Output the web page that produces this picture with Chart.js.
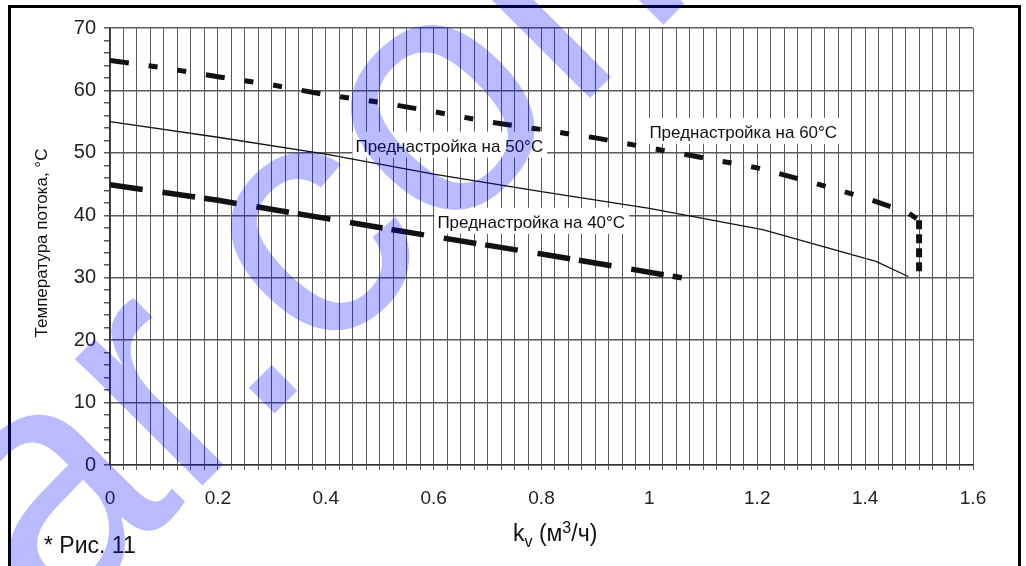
<!DOCTYPE html>
<html>
<head>
<meta charset="utf-8">
<script src="https://cdn.jsdelivr.net/npm/chart.js@4"></script>
<style>
  html, body { margin: 0; padding: 0; background: #fff; }
</style>
</head>
<body>
<canvas id="my-chart" width="1026" height="566"></canvas>
<script>
'use strict';

// ************* Data **************
let kv60 = [0, 0.1, 0.2, 0.3, 0.4, 0.5, 0.6, 0.7, 0.8, 0.9, 1.0, 1.1, 1.2, 1.3, 1.4, 1.48, 1.5, 1.5];
let t60 = [64.8, 63.6, 62.2, 60.9, 59.3, 58.1, 56.6, 55.0, 53.7, 52.4, 50.8, 49.2, 47.6, 45.3, 42.8, 40.4, 39.2, 30.3];

let kv50 = [0, 0.2, 0.4, 0.6, 0.8, 1.0, 1.21, 1.42, 1.48];
let t50 = [55.0, 52.5, 49.8, 46.6, 43.8, 41.1, 37.7, 32.6, 30.2];

let kv40 = [0, 0.2, 0.4, 0.6, 0.8, 1.06];
let t40 = [44.9, 42.4, 39.5, 36.6, 33.8, 30.0];

let xTickLabels = [0, 0.2, 0.4, 0.6, 0.8, 1, 1.2, 1.4, 1.6];
let yTickLabels = [0, 10, 20, 30, 40, 50, 60, 70];

// label text + where it sits (kv, temperature of the text baseline-left)
let notes = [
  { text: 'Преднастройка на 60°C', kv: 1.0, t: 52.4 },
  { text: 'Преднастройка на 50°C', kv: 0.455, t: 50.2 },
  { text: 'Преднастройка на 40°C', kv: 0.607, t: 38.0 }
];

// ************* Helpers **************
function toPoints(xs, ys){
  let pts = [];
  for(let i = 0; i < xs.length; i++){
    pts.push({ x: xs[i], y: ys[i] });
  }
  return pts;
}

function inList(list, v){
  for(let i = 0; i < list.length; i++){
    if (Math.abs(list[i] - v) < 1e-6) return true;
  }
  return false;
}

const FONT = '"Liberation Sans", Arial, sans-serif';
const GRID = '#5a5a5a';

// ************* Drawing plugin **************
let decorPlugin = {
  id: 'decor',
  afterDatasetsDraw(chart){
    let ctx = chart.ctx;
    let xs = chart.scales.x;
    let ys = chart.scales.y;
    ctx.save();
    ctx.font = '17px ' + FONT;
    ctx.textBaseline = 'alphabetic';
    for(let i = 0; i < notes.length; i++){
      let n = notes[i];
      let px = xs.getPixelForValue(n.kv);
      let py = ys.getPixelForValue(n.t);
      let w = ctx.measureText(n.text).width;
      ctx.fillStyle = '#fff';
      ctx.fillRect(px - 3, py - 20, w + 7, 26);
      ctx.fillStyle = '#111';
      ctx.fillText(n.text, px, py);
    }
    ctx.restore();
  },
  afterDraw(chart){
    let ctx = chart.ctx;
    ctx.save();

    // y title
    ctx.fillStyle = '#111';
    ctx.font = '17px ' + FONT;
    ctx.textAlign = 'center';
    ctx.textBaseline = 'alphabetic';
    ctx.translate(47, 243);
    ctx.rotate(-Math.PI / 2);
    ctx.fillText('Температура потока, °C', 0, 0);
    ctx.setTransform(1, 0, 0, 1, 0, 0);

    // x title  k_v (м^3/ч)
    ctx.textAlign = 'left';
    let x = 513;
    let base = 541;
    ctx.font = '23px ' + FONT;
    ctx.fillText('k', x, base);
    x += ctx.measureText('k').width;
    ctx.font = '16px ' + FONT;
    ctx.fillText('v', x, base + 6);
    x += ctx.measureText('v').width;
    ctx.font = '23px ' + FONT;
    ctx.fillText(' (м', x, base);
    x += ctx.measureText(' (м').width;
    ctx.font = '16px ' + FONT;
    ctx.fillText('3', x, base - 8);
    x += ctx.measureText('3').width;
    ctx.font = '23px ' + FONT;
    ctx.fillText('/ч)', x, base);

    // caption
    ctx.font = '23px ' + FONT;
    ctx.fillText('* Рис. 11', 44, 553);

    // outer frame
    ctx.strokeStyle = '#000';
    ctx.lineWidth = 3;
    ctx.strokeRect(9.5, 6.5, 1010, 620);

    // watermark
    ctx.fillStyle = 'rgba(0, 0, 255, 0.27)';
    ctx.font = '340px ' + FONT;
    ctx.textAlign = 'left';
    ctx.translate(52, 636);
    ctx.rotate(-Math.PI / 4);
    ctx.fillText('ar.com', 0, 0);
    ctx.restore();
  }
};

// ************* Chart **************
let canvasElem = document.getElementById('my-chart');

let myObj = {
  type: 'line',
  data: {
    datasets: [{
      label: 'Преднастройка на 60°C',
      data: toPoints(kv60, t60),
      borderColor: '#111',
      borderWidth: 5,
      borderDash: [19, 20, 9, 20, 9, 20],
      segment: {
        borderDash: c => (c.p0.parsed.x >= 1.5 ? [9, 5] : undefined),
        borderWidth: c => (c.p0.parsed.x >= 1.5 ? 6 : undefined)
      },
      pointRadius: 0,
      fill: false,
      tension: 0
    },
    {
      label: 'Преднастройка на 50°C',
      data: toPoints(kv50, t50),
      borderColor: '#111',
      borderWidth: 1.3,
      pointRadius: 0,
      fill: false,
      tension: 0
    },
    {
      label: 'Преднастройка на 40°C',
      data: toPoints(kv40, t40),
      borderColor: '#111',
      borderWidth: 5.5,
      borderDash: [33, 20, 33, 9],
      pointRadius: 0,
      fill: false,
      tension: 0
    }]
  },
  options: {
    responsive: false,
    animation: false,
    events: [],
    layout: {
      padding: { left: 10, right: 53, top: 28, bottom: 61 }
    },
    plugins: {
      legend: { display: false },
      tooltip: { enabled: false }
    },
    scales: {
      x: {
        type: 'linear',
        min: 0,
        max: 1.6,
        afterFit: s => { s.height = 40; },
        border: { color: '#333', width: 1.5 },
        grid: {
          color: GRID,
          lineWidth: 1,
          tickLength: 5,
          tickColor: GRID
        },
        ticks: {
          stepSize: 0.025,
          autoSkip: false,
          maxRotation: 0,
          padding: 17,
          color: '#222',
          font: { family: FONT, size: 19 },
          callback: v => (inList(xTickLabels, v) ? String(Number(v.toFixed(1))) : '')
        }
      },
      y: {
        min: 0,
        max: 70,
        afterFit: s => { s.width = 100; },
        border: { color: '#333', width: 1.5 },
        grid: {
          color: c => (c.tick && c.tick.value % 10 === 0 ? GRID : 'rgba(0,0,0,0)'),
          lineWidth: 1.5,
          tickLength: 6,
          tickColor: GRID
        },
        ticks: {
          stepSize: 2,
          autoSkip: false,
          padding: 8,
          color: '#222',
          font: { family: FONT, size: 20 },
          callback: v => (inList(yTickLabels, v) ? String(v) : '')
        }
      }
    }
  },
  plugins: [decorPlugin]
};

new Chart(canvasElem, myObj);
</script>
</body>
</html>
